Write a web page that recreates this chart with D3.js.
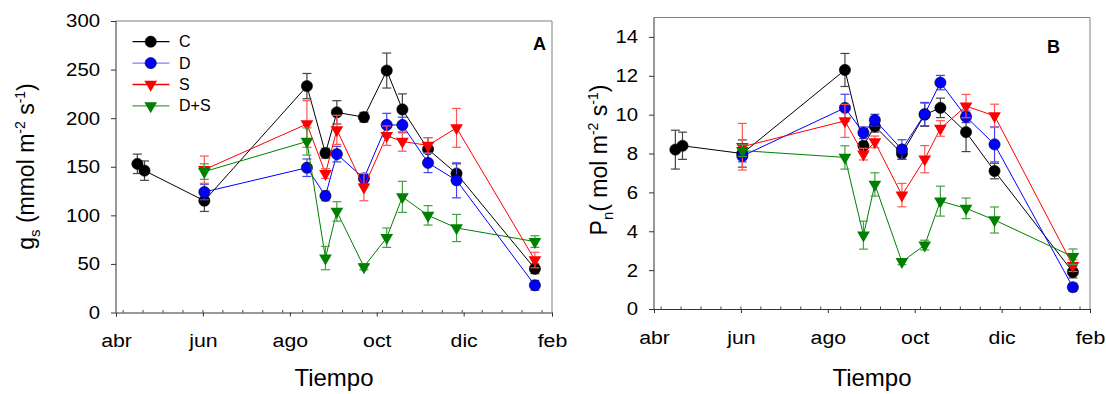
<!DOCTYPE html>
<html>
<head>
<meta charset="utf-8">
<script src="https://cdn.jsdelivr.net/npm/d3@7"></script>
<style>
  body { margin: 0; background: #fff; }
  svg { font-family: "Liberation Sans", Arial, sans-serif; }
</style>
</head>
<body>
<svg id="chart" width="1106" height="394"></svg>
<script>
// sampling dates
const dates = ['2000-04-16', '2000-04-21', '2000-06-02', '2000-08-13', '2000-08-26', '2000-09-03',
  '2000-09-22', '2000-10-08', '2000-10-19', '2000-11-06', '2000-11-26', '2001-01-20'];
const monthTicks = ['2000-04-01', '2000-06-01', '2000-08-01', '2000-10-01', '2000-12-01', '2001-02-01'];
const monthLabels = ['abr', 'jun', 'ago', 'oct', 'dic', 'feb'];
const treatments = ['C', 'D', 'S', 'D+S'];

// panel A: stomatal conductance gs
const gsC = [153, 146, 115, 233, 164, 206, 201, 249, 209, 168, 143, 45];
const gsCErr = [10, 10, 11, 13, 5, 12, 5, 18, 16, 12, 10, 5];
const gsD = [null, null, 124, 149, 120, 163, 138, 193, 193, 154, 136, 28];
const gsDErr = [null, null, 8, 9, 5, 8, 5, 12, 8, 10, 18, 5];
const gsS = [null, null, 147, 194, 143, 188, 129, 182, 176, 172, 190, 54];
const gsSErr = [null, null, 14, 24, 5, 15, 14, 10, 10, 8, 20, 8];
const gsDS = [null, null, 145, 176, 56, 104, 47, 77, 119, 100, 87, 73];
const gsDSErr = [null, null, 8, 14, 12, 10, 3, 10, 16, 10, 14, 6];

// panel B: net photosynthesis Pn
const pnC = [8.2, 8.4, 8.0, 12.3, 8.4, 9.4, 8.0, 10.0, 10.35, 9.1, 7.1, 1.9];
const pnCErr = [1.0, 0.7, 0.7, 0.85, 0.2, 0.3, 0.3, 0.6, 0.5, 1.0, 0.4, 0.3];
const pnD = [null, null, 7.87, 10.35, 9.07, 9.72, 8.21, 10.03, 11.65, 9.89, 8.47, 1.12];
const pnDErr = [null, null, 0.3, 0.7, 0.3, 0.3, 0.5, 0.6, 0.37, 0.3, 0.9, 0.2];
const pnS = [null, null, 8.35, 9.68, 7.97, 8.6, 5.86, 7.71, 9.29, 10.44, 9.94, 2.23];
const pnSErr = [null, null, 1.2, 0.85, 0.3, 0.3, 0.6, 0.7, 0.4, 0.6, 0.6, 0.3];
const pnDS = [null, null, 8.15, 7.8, 3.8, 6.41, 2.43, 3.29, 5.55, 5.18, 4.58, 2.69];
const pnDSErr = [null, null, 0.3, 0.6, 0.72, 0.6, 0.15, 0.25, 0.77, 0.53, 0.67, 0.4];

const parse = d3.timeParse('%Y-%m-%d');
const dateVals = dates.map(parse);
const tickDates = monthTicks.map(parse);

const styles = {
  'C':   { color: '#000000', err: '#444444', legendLine: '#000000', marker: 'circle' },
  'D':   { color: '#0000ff', err: '#4444ee', legendLine: '#8080ff', marker: 'circle' },
  'S':   { color: '#ff0000', err: '#ff5555', legendLine: '#ff0000', marker: 'tri' },
  'D+S': { color: '#008000', err: '#44a044', legendLine: '#40a040', marker: 'tri' },
};

const svg = d3.select('#chart');
svg.append('rect').attr('width', 1106).attr('height', 394).attr('fill', '#fff');

function marker(g, type, x, y, color) {
  if (type === 'circle') {
    g.append('circle').attr('cx', x).attr('cy', y).attr('r', 5.6)
      .attr('fill', color).attr('stroke', '#000').attr('stroke-width', 0.6);
  } else {
    g.append('path')
      .attr('d', d3.symbol(d3.symbolTriangle, 70)())
      .attr('transform', `translate(${x},${y}) rotate(180)`)
      .attr('fill', color);
  }
}

function drawPanel(opts) {
  const { left, right, top, bottom, yMax, yTicks, series, label, labelX, labelY } = opts;
  const x = d3.scaleTime().domain([tickDates[0], tickDates[5]]).range([left, right]);
  const y = d3.scaleLinear().domain([0, yMax]).range([bottom, top]);
  const g = svg.append('g');

  // frame top/right
  g.append('line').attr('x1', left).attr('x2', right).attr('y1', top).attr('y2', top)
    .attr('stroke', '#808080');
  g.append('line').attr('x1', right).attr('x2', right).attr('y1', top).attr('y2', bottom)
    .attr('stroke', '#808080');

  // minor ticks on x, every two weeks, pointing inward
  const minor = d3.timeDay.range(parse('2000-04-06'), tickDates[5], 14);
  g.append('g').selectAll('line').data(minor).join('line')
    .attr('x1', d => x(d)).attr('x2', d => x(d))
    .attr('y1', bottom).attr('y2', bottom - 2.5)
    .attr('stroke', '#444');

  const xAxis = g.append('g').attr('transform', `translate(0,${bottom})`)
    .call(d3.axisBottom(x).tickValues(tickDates).tickSize(4).tickFormat((d, i) => monthLabels[i]));
  xAxis.select('.domain').attr('stroke', '#333');
  xAxis.selectAll('.tick line').attr('stroke', '#333');
  xAxis.selectAll('text').attr('font-size', 19).attr('fill', '#000').attr('dy', 0).attr('y', 35)
    .attr('transform', 'scale(1.12,1)');

  const yAxis = g.append('g').attr('transform', `translate(${left},0)`)
    .call(d3.axisLeft(y).tickValues(yTicks).tickSize(5).tickSizeOuter(0));
  yAxis.select('.domain').attr('stroke', '#333').attr('d', `M0,${top}V${bottom}`);
  yAxis.selectAll('.tick line').attr('stroke', '#333');
  yAxis.selectAll('text').attr('font-size', 18.5).attr('fill', '#000').attr('x', -14.5)
    .attr('transform', 'scale(1.1,1)');

  const line = d3.line().defined(d => d[1] != null).x(d => x(d[0])).y(d => y(d[1]));

  series.forEach(s => {
    const st = styles[s.name];
    const pts = dateVals.map((d, i) => [d, s.values[i], s.err[i]]);
    g.append('path').datum(pts).attr('d', line)
      .attr('fill', 'none').attr('stroke', st.color).attr('stroke-width', 1);
    const eb = g.append('g').attr('stroke', st.err).attr('stroke-width', 1.2);
    pts.filter(p => p[1] != null).forEach(p => {
      const cx = x(p[0]);
      const y1 = y(p[1] + p[2]), y2 = y(p[1] - p[2]);
      eb.append('line').attr('x1', cx).attr('x2', cx).attr('y1', y1).attr('y2', y2);
      eb.append('line').attr('x1', cx - 4.5).attr('x2', cx + 4.5).attr('y1', y1).attr('y2', y1);
      eb.append('line').attr('x1', cx - 4.5).attr('x2', cx + 4.5).attr('y1', y2).attr('y2', y2);
    });
    const mg = g.append('g');
    pts.filter(p => p[1] != null).forEach(p => marker(mg, st.marker, x(p[0]), y(p[1]), st.color));
  });

  g.append('text').attr('x', labelX).attr('y', labelY).attr('text-anchor', 'end')
    .attr('font-size', 18).attr('font-weight', 'bold').text(label);

  g.append('text').attr('x', (left + right) / 2).attr('y', 386).attr('text-anchor', 'middle')
    .attr('font-size', 24).text('Tiempo');
  return g;
}

drawPanel({
  left: 116, right: 552, top: 21, bottom: 312.5, yMax: 300,
  yTicks: [0, 50, 100, 150, 200, 250, 300],
  series: [
    { name: 'C', values: gsC, err: gsCErr },
    { name: 'D', values: gsD, err: gsDErr },
    { name: 'S', values: gsS, err: gsSErr },
    { name: 'D+S', values: gsDS, err: gsDSErr },
  ],
  label: 'A', labelX: 546, labelY: 50,
});

drawPanel({
  left: 654, right: 1090, top: 17.5, bottom: 309, yMax: 15,
  yTicks: [0, 2, 4, 6, 8, 10, 12, 14],
  series: [
    { name: 'C', values: pnC, err: pnCErr },
    { name: 'D', values: pnD, err: pnDErr },
    { name: 'S', values: pnS, err: pnSErr },
    { name: 'D+S', values: pnDS, err: pnDSErr },
  ],
  label: 'B', labelX: 1060, labelY: 53,
});

// legend in panel A
const leg = svg.append('g');
treatments.forEach((t, i) => {
  const st = styles[t];
  const cy = 41.7 + i * 21.4;
  leg.append('line').attr('x1', 132.5).attr('x2', 169.5).attr('y1', cy).attr('y2', cy)
    .attr('stroke', st.legendLine).attr('stroke-width', 1.3);
  marker(leg, st.marker, 150.7, cy, st.color);
  leg.append('text').attr('x', 179).attr('y', cy + 5.5).attr('font-size', 16).text(t);
});

// y axis titles
svg.append('text').attr('transform', 'translate(34,166.5) rotate(-90)')
  .attr('text-anchor', 'middle').attr('font-size', 23)
  .html('g<tspan font-size="15" dy="6">s</tspan><tspan dy="-6"> (mmol m</tspan><tspan font-size="14" dy="-9">-2</tspan><tspan dy="9"> s</tspan><tspan font-size="14" dy="-9">-1</tspan><tspan dy="9">)</tspan>');

svg.append('text').attr('transform', 'translate(607,160) rotate(-90)')
  .attr('text-anchor', 'middle').attr('font-size', 23)
  .html('P<tspan font-size="15" dy="6">n</tspan><tspan dy="-6">(  mol m</tspan><tspan font-size="14" dy="-9">-2</tspan><tspan dy="9"> s</tspan><tspan font-size="14" dy="-9">-1</tspan><tspan dy="9">)</tspan>');
</script>
</body>
</html>
